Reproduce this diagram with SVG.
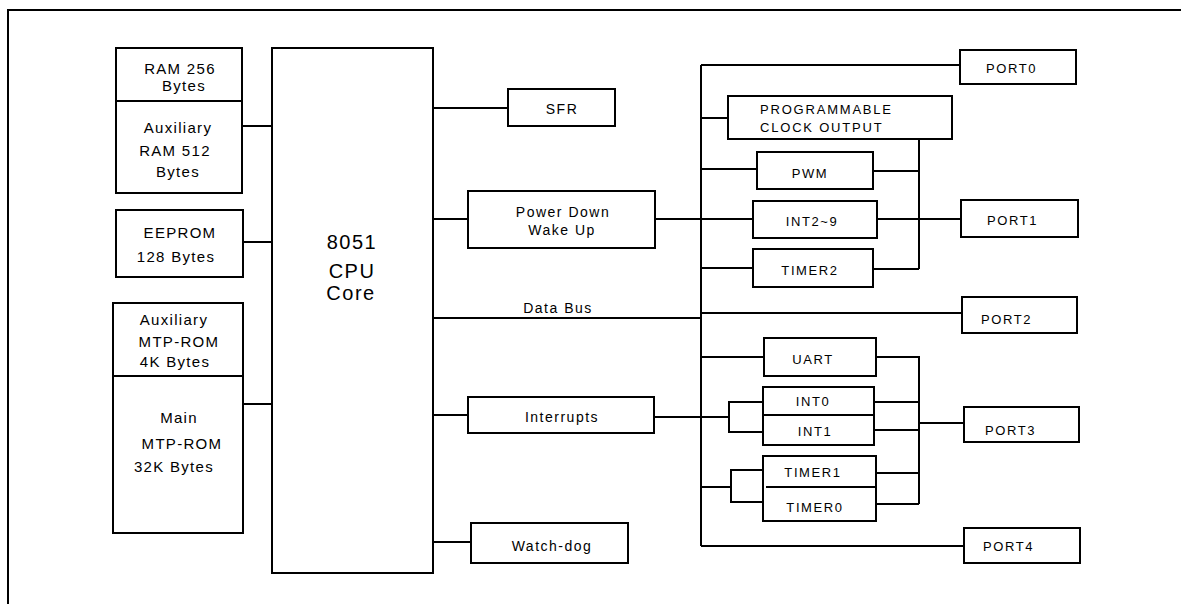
<svg xmlns="http://www.w3.org/2000/svg" width="1181" height="604" viewBox="0 0 1181 604">
<style>
rect.b{fill:#fff;stroke:#000;stroke-width:2}
.ln{fill:none;stroke:#000;stroke-width:2}
text{font-family:"Liberation Sans",Arial,sans-serif;fill:#000}
.m{font-size:15px;letter-spacing:1.3px;text-anchor:middle}
.c{font-size:20px;letter-spacing:1.5px;text-anchor:middle}
.t{font-size:14px;letter-spacing:1.5px;text-anchor:middle}
.r{font-size:13px;letter-spacing:1.6px;text-anchor:middle}
.p{font-size:13px;letter-spacing:1.6px}
</style>
<rect width="1181" height="604" fill="#fff"/>
<path class="ln" d="M8,604 V10 H1181"/>
<g id="connectors" class="ln">
<path d="M242,126 H272"/>
<path d="M243,242 H272"/>
<path d="M243,404 H272"/>
<path d="M433,108 H508"/>
<path d="M433,219 H468"/>
<path d="M433,318 H701"/>
<path d="M433,415 H468"/>
<path d="M433,542 H471"/>
<path d="M701,65 V546"/>
<path d="M701,65 H960"/>
<path d="M701,118 H728"/>
<path d="M701,169 H757"/>
<path d="M655,219 H753"/>
<path d="M701,268 H753"/>
<path d="M919,139 V269"/>
<path d="M873,171 H919"/>
<path d="M877,219 H961"/>
<path d="M873,269 H919"/>
<path d="M701,313 H962"/>
<path d="M701,357 H764"/>
<path d="M876,357 H919 V504"/>
<path d="M654,417 H729"/>
<path d="M763,402 H729 V432 H763"/>
<path d="M874,402 H919"/>
<path d="M874,430 H919"/>
<path d="M919,423 H964"/>
<path d="M701,487 H731"/>
<path d="M763,470 H731 V502 H763"/>
<path d="M876,473 H919"/>
<path d="M876,504 H919"/>
<path d="M701,546 H964"/>
</g>
<g id="ram">
<rect class="b" x="116" y="48" width="126" height="145"/>
<path class="ln" d="M116,101 H242"/>
<text class="m" x="180" y="74">RAM 256</text>
<text class="m" x="184" y="91">Bytes</text>
<text class="m" x="178" y="133">Auxiliary</text>
<text class="m" x="175" y="156">RAM 512</text>
<text class="m" x="178" y="177">Bytes</text>
</g>
<g id="eeprom">
<rect class="b" x="116" y="210" width="127" height="67"/>
<text class="m" x="180" y="238">EEPROM</text>
<text class="m" x="176" y="262">128 Bytes</text>
</g>
<g id="mtprom">
<rect class="b" x="113" y="303" width="130" height="230"/>
<path class="ln" d="M113,376 H243"/>
<text class="m" x="174" y="325">Auxiliary</text>
<text class="m" x="179" y="347">MTP-ROM</text>
<text class="m" x="175" y="367">4K Bytes</text>
<text class="m" x="179" y="423">Main</text>
<text class="m" x="182" y="449">MTP-ROM</text>
<text class="m" x="174" y="472">32K Bytes</text>
</g>
<g id="cpu">
<rect class="b" x="272" y="48" width="161" height="525"/>
<text class="c" x="352" y="249">8051</text>
<text class="c" x="352" y="278">CPU</text>
<text class="c" x="351" y="300">Core</text>
</g>
<g id="sfr">
<rect class="b" x="508" y="89" width="107" height="37"/>
<text class="t" x="562" y="114">SFR</text>
</g>
<g id="powerdown">
<rect class="b" x="468" y="191" width="187" height="57"/>
<text class="t" x="563" y="217">Power Down</text>
<text class="t" x="562" y="235">Wake Up</text>
</g>
<g id="databus-label">
<text class="t" x="558" y="313">Data Bus</text>
</g>
<g id="interrupts">
<rect class="b" x="468" y="397" width="186" height="36"/>
<text class="t" x="562" y="422">Interrupts</text>
</g>
<g id="watchdog">
<rect class="b" x="471" y="523" width="157" height="40"/>
<text class="t" x="552" y="551">Watch-dog</text>
</g>
<g id="port0">
<rect class="b" x="960" y="50" width="116" height="34"/>
<text class="p" x="986" y="73">PORT0</text>
</g>
<g id="clockout">
<rect class="b" x="728" y="96" width="224" height="43"/>
<text class="p" x="760" y="114" style="letter-spacing:1.8px">PROGRAMMABLE</text>
<text class="p" x="760" y="132" style="letter-spacing:1.8px">CLOCK OUTPUT</text>
</g>
<g id="pwm">
<rect class="b" x="757" y="152" width="116" height="37"/>
<text class="r" x="810" y="178">PWM</text>
</g>
<g id="int29">
<rect class="b" x="753" y="201" width="124" height="37"/>
<text class="r" x="812" y="226">INT2~9</text>
</g>
<g id="port1">
<rect class="b" x="961" y="200" width="117" height="37"/>
<text class="p" x="987" y="225">PORT1</text>
</g>
<g id="timer2">
<rect class="b" x="753" y="249" width="120" height="38"/>
<text class="r" x="810" y="275">TIMER2</text>
</g>
<g id="port2">
<rect class="b" x="962" y="297" width="115" height="36"/>
<text class="p" x="981" y="324">PORT2</text>
</g>
<g id="uart">
<rect class="b" x="764" y="338" width="112" height="38"/>
<text class="r" x="813" y="364">UART</text>
</g>
<g id="int01">
<rect class="b" x="763" y="387" width="111" height="58"/>
<path class="ln" d="M763,415 H874"/>
<text class="r" x="813" y="406">INT0</text>
<text class="r" x="815" y="436">INT1</text>
</g>
<g id="port3">
<rect class="b" x="964" y="407" width="115" height="35"/>
<text class="p" x="985" y="435">PORT3</text>
</g>
<g id="timer10">
<rect class="b" x="763" y="456" width="113" height="65"/>
<path class="ln" d="M766,487 H876"/>
<text class="r" x="813" y="477">TIMER1</text>
<text class="r" x="815" y="512">TIMER0</text>
</g>
<g id="port4">
<rect class="b" x="964" y="528" width="116" height="35"/>
<text class="p" x="983" y="551">PORT4</text>
</g>
</svg>
